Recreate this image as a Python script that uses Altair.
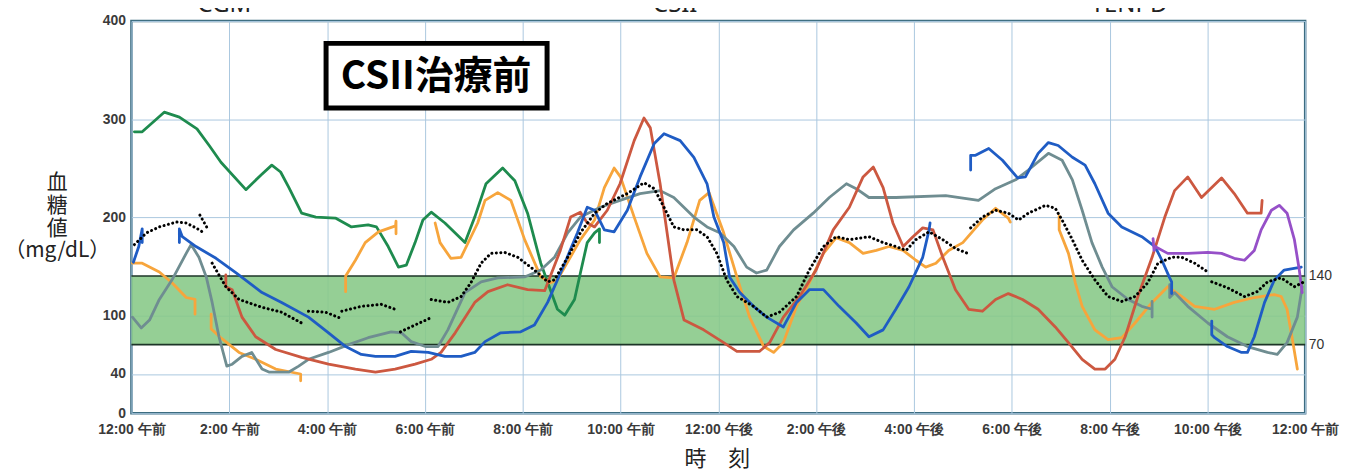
import altair as alt
import pandas as pd

# ---------------- data ----------------
X_LABELS = ["12:00 午前", "2:00 午前", "4:00 午前", "6:00 午前", "8:00 午前", "10:00 午前",
            "12:00 午後", "2:00 午後", "4:00 午後", "6:00 午後", "8:00 午後", "10:00 午後", "12:00 午前"]
Y_TICKS = [0, 40, 100, 200, 300, 400]
TARGET = [70, 140]
TOP_LABELS = ["CGM", "CSII", "TENPD"]
TOP_LABEL_T = [1.9, 11.12, 20.4]

GREEN = [(0.06, 287), (0.22, 287), (0.67, 307), (0.98, 302), (1.34, 290), (1.59, 273), (1.83, 256),
         (2.34, 228), (2.65, 243), (2.87, 253), (3.05, 246), (3.22, 230), (3.48, 204), (3.77, 200),
         (4.17, 199), (4.50, 190), (4.84, 192), (5.01, 190), (5.25, 170), (5.46, 149), (5.62, 151),
         (5.80, 174), (5.96, 197), (6.13, 205), (6.41, 194), (6.82, 174), (7.02, 200), (7.25, 234),
         (7.59, 250), (7.84, 237), (8.10, 204), (8.37, 153), (8.71, 106), (8.86, 100), (9.06, 116),
         (9.18, 143), (9.32, 174), (9.47, 184), (9.57, 188), (9.57, 174)]

ORANGE_1 = [(0.02, 153), (0.22, 153), (0.57, 144), (0.83, 133), (1.12, 118), (1.30, 116), (1.30, 101)]
ORANGE_2 = [(1.63, 101), (1.63, 86), (1.85, 76), (2.20, 62), (2.54, 55), (2.95, 45), (3.46, 40), (3.46, 33)]
ORANGE_3 = [(4.38, 124), (4.38, 140), (4.58, 156), (4.78, 174), (5.05, 185), (5.40, 191), (5.41, 196), (5.41, 183)]
ORANGE_4 = [(6.21, 194), (6.31, 174), (6.53, 158), (6.74, 159), (7.08, 194), (7.23, 217), (7.49, 225),
            (7.76, 217), (8.04, 177), (8.37, 139), (8.57, 133), (8.71, 136), (9.18, 177), (9.47, 197),
            (9.67, 230), (9.87, 250), (10.0, 241), (10.28, 200), (10.54, 163), (10.81, 139), (11.09, 138),
            (11.36, 174), (11.62, 217), (11.81, 225), (12.11, 184), (12.38, 139), (12.64, 98), (12.93, 68),
            (13.13, 62), (13.33, 72), (13.60, 109), (13.86, 133), (14.15, 163), (14.41, 179), (14.68, 174),
            (14.96, 163), (15.23, 166), (15.49, 170), (15.78, 166), (16.04, 156), (16.24, 149), (16.45, 153),
            (16.71, 166), (17.0, 174), (17.40, 197), (17.67, 209), (17.93, 199), (17.97, 195)]
ORANGE_5 = [(18.97, 201), (18.97, 187), (19.16, 163), (19.30, 133), (19.44, 109), (19.70, 85), (19.97, 75),
            (20.25, 77), (20.52, 92), (20.87, 113), (21.19, 129), (21.48, 119), (21.74, 109), (22.15, 106),
            (22.55, 113), (22.96, 118), (23.37, 121), (23.51, 119), (23.63, 106), (23.74, 75), (23.84, 45)]

BLUE_1 = [(0.04, 154), (0.15, 170), (0.22, 188), (0.22, 174)]
BLUE_2 = [(0.98, 174), (0.98, 188), (1.04, 180), (1.32, 170), (1.73, 158), (2.14, 143), (2.67, 123),
          (3.07, 113), (3.62, 98), (4.03, 82), (4.38, 68), (4.70, 60), (4.99, 58), (5.39, 58), (5.72, 63),
          (6.07, 62), (6.41, 58), (6.74, 58), (7.02, 62), (7.23, 73), (7.55, 82), (7.96, 83), (8.24, 90),
          (8.51, 113), (8.86, 153), (9.12, 184), (9.32, 210), (9.47, 207), (9.67, 187), (9.87, 185),
          (10.14, 207), (10.40, 241), (10.69, 275), (10.89, 285), (11.22, 278), (11.50, 261), (11.77, 234),
          (11.91, 200), (12.11, 174), (12.23, 139), (12.44, 123), (12.72, 109), (12.99, 98), (13.33, 88),
          (13.60, 113), (13.86, 126), (14.15, 126), (14.47, 109), (14.82, 92), (15.08, 78), (15.37, 85),
          (15.63, 106), (15.90, 129), (16.18, 159), (16.31, 187), (16.33, 194)]
BLUE_3 = [(17.16, 248), (17.16, 263), (17.26, 263), (17.53, 270), (17.81, 258), (18.12, 240), (18.28, 241),
          (18.54, 265), (18.75, 276), (18.95, 273), (19.24, 261), (19.50, 253), (19.70, 234), (19.97, 204),
          (20.25, 190), (20.66, 180), (20.93, 170), (21.07, 156), (21.23, 138), (21.27, 134), (21.27, 122)]
BLUE_4 = [(22.09, 94), (22.09, 80), (22.15, 77), (22.41, 68), (22.70, 62), (22.82, 62), (22.96, 78),
          (23.17, 113), (23.37, 136), (23.57, 146), (23.92, 149)]

RED = [(1.93, 141), (1.93, 129), (2.06, 126), (2.26, 98), (2.54, 78), (2.95, 65), (3.48, 57), (4.03, 50),
       (4.58, 45), (4.99, 42), (5.39, 45), (5.80, 50), (6.13, 55), (6.33, 62), (6.62, 82), (7.02, 113),
       (7.29, 124), (7.69, 131), (8.10, 126), (8.45, 125), (8.77, 166), (8.98, 200), (9.18, 205), (9.32, 194),
       (9.47, 190), (9.73, 207), (9.99, 234), (10.28, 278), (10.48, 301), (10.61, 291), (10.81, 234),
       (11.09, 136), (11.30, 95), (11.70, 85), (12.11, 72), (12.38, 63), (12.84, 63), (13.05, 72), (13.33, 98),
       (13.66, 119), (14.0, 146), (14.35, 187), (14.68, 210), (14.96, 241), (15.17, 251), (15.37, 230),
       (15.57, 194), (15.78, 170), (15.98, 180), (16.18, 189), (16.39, 187), (16.59, 159), (16.85, 126),
       (17.12, 106), (17.40, 104), (17.67, 116), (17.93, 122), (18.22, 116), (18.54, 106), (18.89, 88),
       (19.16, 72), (19.44, 55), (19.70, 45), (19.91, 45), (20.11, 55), (20.32, 78), (20.58, 119),
       (20.87, 159), (21.13, 200), (21.33, 227), (21.60, 241), (21.88, 220), (22.29, 240), (22.55, 224),
       (22.82, 204), (23.10, 204), (23.12, 217)]

GRAY_1 = [(0.02, 98), (0.20, 87), (0.37, 95), (0.57, 116), (0.83, 136), (1.12, 163), (1.22, 172), (1.38, 159),
          (1.53, 139), (1.65, 113), (1.79, 78), (1.95, 48), (2.06, 50), (2.26, 58), (2.46, 62), (2.67, 45),
          (2.81, 42), (3.22, 42), (3.42, 48), (3.62, 55), (4.03, 62), (4.44, 70), (4.84, 77), (5.31, 83),
          (5.52, 82), (5.72, 73), (6.01, 68), (6.27, 68), (6.47, 85), (6.82, 123), (7.15, 134), (7.49, 138),
          (8.04, 139), (8.37, 146), (8.65, 159), (8.92, 184), (9.18, 200), (9.59, 210), (9.99, 217),
          (10.40, 224), (10.81, 227), (11.09, 220), (11.50, 200), (11.77, 190), (12.03, 184), (12.32, 170),
          (12.58, 149), (12.78, 143), (12.99, 146), (13.25, 170), (13.54, 187), (13.94, 204), (14.27, 220),
          (14.62, 234), (14.82, 229), (15.08, 220), (15.63, 220), (16.65, 222), (17.32, 217), (17.67, 229),
          (18.08, 238), (18.34, 248), (18.75, 265), (19.03, 258), (19.24, 238), (19.44, 207), (19.64, 174),
          (19.85, 149), (20.05, 129), (20.38, 116), (20.66, 109), (20.87, 106), (20.87, 114), (20.87, 98)]
GRAY_2 = [(21.23, 131), (21.23, 118), (21.33, 123), (21.60, 109), (22.01, 92), (22.41, 78), (22.82, 68),
          (23.23, 62), (23.43, 60), (23.63, 72), (23.84, 98), (23.94, 129)]

PURPLE = [(20.89, 178), (20.91, 166), (20.93, 170), (21.19, 163), (21.60, 163), (22.01, 164), (22.29, 163),
          (22.55, 158), (22.76, 156), (22.96, 166), (23.10, 187), (23.31, 207), (23.47, 212), (23.63, 204),
          (23.78, 177), (23.88, 146), (23.94, 123)]

DOT_A = [(0.06, 172), (0.31, 184), (0.57, 190), (0.92, 195), (1.12, 194), (1.32, 189), (1.45, 185)]
DOT_A2 = [(1.40, 202), (1.56, 188)]
DOT_B = [(1.65, 153), (1.93, 129), (2.20, 116), (2.67, 108), (3.07, 103), (3.48, 92)]
DOT_C = [(3.62, 104), (3.97, 103), (4.27, 97)]
DOT_D = [(4.30, 104), (4.70, 109), (5.11, 111), (5.39, 106)]
DOT_E = [(5.50, 83), (5.80, 90), (6.11, 97)]
DOT_F = [(6.13, 116), (6.47, 113), (6.74, 119), (6.94, 133), (7.15, 153), (7.35, 163), (7.63, 164),
         (7.90, 159), (8.24, 146), (8.51, 134), (8.65, 136), (8.92, 159), (9.18, 184), (9.47, 204),
         (9.73, 214), (10.14, 224), (10.48, 235), (10.69, 229), (10.89, 210), (11.09, 190), (11.30, 187),
         (11.56, 187), (11.77, 180), (11.97, 163), (12.17, 136), (12.38, 119), (12.72, 109), (12.99, 98),
         (13.25, 103), (13.60, 119), (13.86, 146), (14.15, 170), (14.41, 180), (14.68, 177), (15.08, 180),
         (15.37, 174), (15.63, 170), (15.84, 166), (16.04, 177), (16.31, 185), (16.59, 177), (16.85, 168),
         (17.10, 163)]
DOT_G = [(17.16, 189), (17.40, 200), (17.67, 207), (17.93, 204), (18.14, 197), (18.34, 204), (18.69, 212),
         (18.89, 209), (19.03, 197), (19.24, 177), (19.44, 156), (19.70, 136), (19.97, 119), (20.25, 114),
         (20.52, 119), (20.78, 133), (20.99, 153), (21.27, 159), (21.48, 159), (21.74, 153), (22.01, 144)]
DOT_H = [(22.09, 134), (22.41, 128), (22.76, 119), (23.02, 124), (23.23, 134), (23.51, 138), (23.78, 129),
         (23.98, 134)]

SERIES = [("green", "g1", GREEN), ("orange", "o1", ORANGE_1), ("orange", "o2", ORANGE_2),
          ("orange", "o3", ORANGE_3), ("orange", "o4", ORANGE_4), ("orange", "o5", ORANGE_5),
          ("gray", "k1", GRAY_1), ("gray", "k2", GRAY_2),
          ("red", "r1", RED),
          ("blue", "b1", BLUE_1), ("blue", "b2", BLUE_2), ("blue", "b3", BLUE_3), ("blue", "b4", BLUE_4),
          ("purple", "p1", PURPLE)]
DOTS = [DOT_A, DOT_A2, DOT_B, DOT_C, DOT_D, DOT_E, DOT_F, DOT_G, DOT_H]

COLOR_DOMAIN = ["green", "orange", "gray", "red", "blue", "purple"]
COLOR_RANGE = ["#1e8b4e", "#f7a53c", "#6f8d91", "#cc5840", "#1f5cc4", "#9650c8"]

rows = []
for name, seg, pts in SERIES:
    for i, (t, v) in enumerate(pts):
        rows.append({"t": t, "v": v, "series": name, "seg": seg, "i": i})
df = pd.DataFrame(rows)

drows = []
for k, pts in enumerate(DOTS):
    for i, (t, v) in enumerate(pts):
        drows.append({"t": t, "v": v, "seg": f"d{k}", "i": i})
ddf = pd.DataFrame(drows)

# ---------------- chart ----------------
W, H = 1179, 394
JP = "Noto Sans CJK JP"
xscale = alt.Scale(domain=[0, 24], nice=False, zero=False)
yscale = alt.Scale(domain=[0, 400], nice=False, zero=True)

label_expr = "[" + ",".join("'" + s + "'" for s in X_LABELS) + "][round(datum.value / 2)]"

x_axis = alt.Axis(values=list(range(0, 25, 2)), labelExpr=label_expr, grid=True,
                  gridColor="#aac8df", gridWidth=1, ticks=False, tickSize=0, domain=False,
                  labelFlush=False, labelPadding=9, labelFont="Liberation Sans", labelFontSize=14,
                  labelFontWeight="bold", labelColor="#3a3a3a", labelOverlap=False,
                  title="時　刻", titleFont=JP, titleFontSize=22, titleFontWeight="normal",
                  titleColor="#222222", titleX=588, titleY=46, titleBaseline="middle",
                  titleAlign="center")

y_axis = alt.Axis(values=Y_TICKS, grid=True, gridColor="#aac8df", gridWidth=1, ticks=False,
                  tickSize=0, domain=False, labelPadding=6, labelFont="Liberation Sans",
                  labelFontSize=14, labelFontWeight="bold", labelColor="#3a3a3a",
                  title=["血", "糖", "値", "（mg/dL）"], titleAngle=0, titleAlign="center",
                  titleBaseline="top", titleX=-75, titleY=151, titleFont=JP, titleFontSize=21,
                  titleFontWeight="normal", titleColor="#222222", titleLineHeight=23)

right_axis = alt.Axis(orient="right", values=TARGET, grid=False, ticks=False, tickSize=0,
                      domain=False, labelPadding=3, labelFont="Liberation Sans", labelFontSize=14,
                      labelColor="#333333", title=None)

band = alt.Chart(pd.DataFrame({"lo": [TARGET[0]], "hi": [TARGET[1]]})).mark_rect(
    color="#86c886", opacity=0.88
).encode(
    x=alt.value(0), x2=alt.value(W),
    y=alt.Y("lo:Q", scale=yscale, axis=None), y2="hi:Q"
)

rules = alt.Chart(pd.DataFrame({"v": TARGET})).mark_rule(color="#1d3527", strokeWidth=1.6).encode(
    y=alt.Y("v:Q", scale=yscale, axis=right_axis)
)

lines = alt.Chart(df).mark_line(strokeWidth=2.8, strokeJoin="round", strokeCap="round").encode(
    x=alt.X("t:Q", scale=xscale, axis=x_axis),
    y=alt.Y("v:Q", scale=yscale, axis=y_axis),
    color=alt.Color("series:N", scale=alt.Scale(domain=COLOR_DOMAIN, range=COLOR_RANGE), legend=None),
    detail="seg:N",
    order="i:Q",
)

dots = alt.Chart(ddf).mark_line(color="black", strokeWidth=3, strokeDash=[0.1, 4.4],
                                strokeCap="round").encode(
    x=alt.X("t:Q", scale=xscale, axis=x_axis),
    y=alt.Y("v:Q", scale=yscale, axis=None),
    detail="seg:N",
    order="i:Q",
)

one = pd.DataFrame({"a": [0]})
box = alt.Chart(one).mark_rect(fill="white", stroke="black", strokeWidth=5).encode(
    x=alt.value(195.5), x2=alt.value(417.5), y=alt.value(22.5), y2=alt.value(87.5)
)
box_text = alt.Chart(one).mark_text(
    text="CSII治療前", font=JP, fontSize=39, fontWeight="bold", align="center",
    baseline="middle", color="black"
).encode(x=alt.value(306), y=alt.value(56))

top_text = alt.Chart(pd.DataFrame({"t": TOP_LABEL_T, "label": TOP_LABELS})).mark_text(
    font="Noto Sans", fontSize=24, align="center", baseline="alphabetic", color="#222222"
).encode(
    x=alt.X("t:Q", scale=xscale, axis=x_axis),
    y=alt.value(-9),
    text="label:N",
)

chart = alt.layer(band, rules, lines, dots, box, box_text, top_text).resolve_axis(
    y="independent"
).properties(
    width=W, height=H,
    autosize=alt.AutoSizeParams(type="none"),
    padding={"left": 124, "top": 12, "right": 36, "bottom": 58},
    background="white",
).configure_view(stroke="#3c6c80", strokeWidth=2.5)

chart.save("out.html", embed_options={"renderer": "svg", "actions": False})
